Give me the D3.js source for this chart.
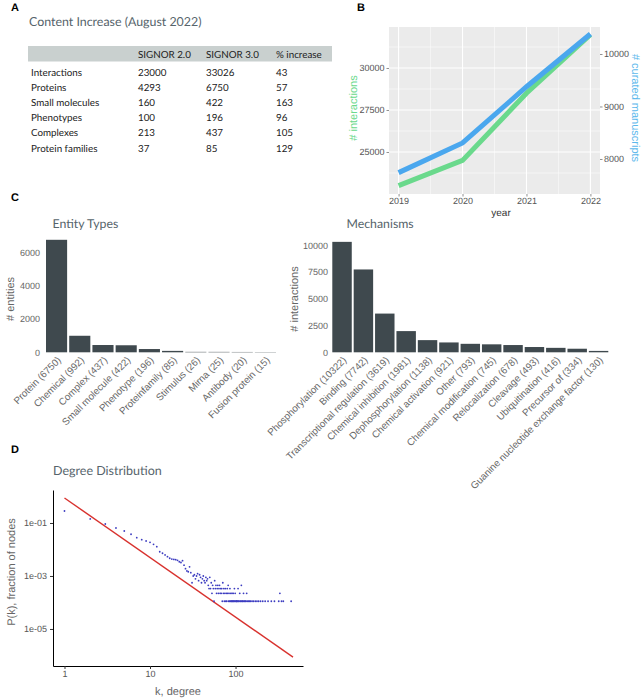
<!DOCTYPE html>
<html><head><meta charset="utf-8">
<script src="https://cdn.jsdelivr.net/npm/d3@7"></script>
<style>
body{margin:0;background:#fff;}
svg{display:block;}
text{text-rendering:geometricPrecision;}
</style></head><body>
<svg id="c" width="641" height="699"></svg>
<script>
// ---------- Panel A : table ----------
const tableHeader = ["SIGNOR 2.0", "SIGNOR 3.0", "% increase"];
const tableRows = ["Interactions","Proteins","Small molecules","Phenotypes","Complexes","Protein families"];
const signor2 = [23000,4293,160,100,213,37];
const signor3 = [33026,6750,422,196,437,85];
const pctIncrease = [43,57,163,96,105,129];

// ---------- Panel B : growth ----------
const years = [2019,2020,2021,2022];
const interactions = [23000,24500,28500,31990];
const manuscripts = [7740,8305,9376,10381];
const leftTicks = [25000,27500,30000];
const rightTicks = [8000,9000,10000];

// ---------- Panel C : bar charts ----------
const entityTypes = ["Protein","Chemical","Complex","Small molecule","Phenotype","Proteinfamily","Stimulus","Mirna","Antibody","Fusion protein"];
const entityCounts = [6750,992,437,422,196,85,26,25,20,15];
const entityTicks = [0,2000,4000,6000];
const mechanisms = ["Phosphorylation","Binding","Transcriptional regulation","Chemical inhibition","Dephosphorylation","Chemical activation","Other","Chemical modification","Relocalization","Cleavage","Ubiquitination","Precursor of","Guanine nucleotide exchange factor"];
const mechanismCounts = [10322,7742,3619,1981,1138,921,793,745,678,493,416,334,130];
const mechanismTicks = [0,2500,5000,7500,10000];

// ---------- Panel D : degree distribution ----------
const degreeK = [1,2,3,4,5,6,7,8,9,10,11,12,13,14,15,16,17,18,19,20,21,22,23,24,25,26,27,28,29,30,31,32,33,34,35,36,37,38,39,40,41,42,43,44,45,46,47,48,49,50,51,52,53,54,55,56,57,58,59,60,61,62,63,64,65,66,67,68,69,70,71,72,73,74,75,76,77,78,79,80,81,82,83,84,85,86,87,88,89,90,91,92,93,94,95,96,97,98,99,100,102,103,104,106,107,108,110,112,113,115,117,118,120,122,124,125,128,130,133,135,138,142,146,150,156,162,170,178,186,196,208,222,240,262,285,320,330,345,362,447];
const degreeNodes = [2556,1278,825,582,449,338,251,211,188,168,141,115,74,65,56,48,42,39,38,37,35,31,29,34,23,17,14,13,20,12,5,9,10,7,9,11,6,10,8,5,7,9,6,5,8,6,7,4,3,8,3,5,2,4,3,1,6,3,4,2,3,4,2,3,4,2,3,2,3,1,5,2,3,1,2,3,1,2,1,3,2,4,1,2,1,3,1,2,1,1,2,1,1,2,1,1,3,1,2,1,1,1,1,1,3,1,1,2,1,1,4,1,1,1,2,1,1,1,1,2,1,1,1,1,1,1,1,1,1,1,1,1,1,1,1,1,2,1,1,1];
const totalNodes = 9000;
const fitLine = [[1,0.88],[470,8.7e-7]];
const degreeXTicks = [1,10,100];
const degreeYTicks = [1e-1,1e-3,1e-5];

// ---------- styling ----------
const svg = d3.select("#c");
const HUM = "Lato, 'Open Sans', sans-serif";
const GG = "'Liberation Sans', Arial, sans-serif";
const titleCol = "#56646b";
const green = "#6ad98c", blue = "#4aa7ee";
const fmt = d3.format("d");

function panelLetter(t,x,y){
  svg.append("text").attr("x",x).attr("y",y).text(t)
    .attr("font-family",GG).attr("font-weight","bold").attr("font-size",11).attr("fill","#000");
}
panelLetter("A",11,11); panelLetter("B",357,11); panelLetter("C",11,201); panelLetter("D",11,453);

// ===== Panel A =====
svg.append("text").attr("x",29).attr("y",26).text("Content Increase (August 2022)")
  .attr("font-family",HUM).attr("font-size",12.4).attr("fill",titleCol);
svg.append("rect").attr("x",28).attr("y",46).attr("width",304).attr("height",15.5).attr("fill","#c9d0cf");
const colX = [138,206,276];
const gA = svg.append("g").attr("font-family",HUM).attr("font-size",9.8).attr("fill","#222");
tableHeader.forEach((h,i)=>gA.append("text").attr("x",colX[i]).attr("y",57.5).text(h));
const rowY = d3.scaleLinear().domain([0,5]).range([76,151.5]);
tableRows.forEach((r,i)=>{
  gA.append("text").attr("x",31).attr("y",rowY(i)).text(r);
  gA.append("text").attr("x",colX[0]).attr("y",rowY(i)).text(signor2[i]);
  gA.append("text").attr("x",colX[1]).attr("y",rowY(i)).text(signor3[i]);
  gA.append("text").attr("x",colX[2]).attr("y",rowY(i)).text(pctIncrease[i]);
});

// ===== Panel B =====
const bx = d3.scaleLinear().domain([2018.85,2022.15]).range([389,600]);
const byL = d3.scaleLinear().domain([22500,32440]).range([194,27]);
const byR = d3.scaleLinear().domain([7333,10514]).range([194,27]);
const gB = svg.append("g");
gB.append("rect").attr("x",389).attr("y",27).attr("width",211).attr("height",167).attr("fill","#ebebeb");
const minorX = years.slice(0,-1).map(y=>y+0.5);
const minorY = leftTicks.map(t=>t-1250).concat([leftTicks[leftTicks.length-1]+1250]);
gB.selectAll(".mx").data(minorX).join("line").attr("x1",d=>bx(d)).attr("x2",d=>bx(d)).attr("y1",27).attr("y2",194).attr("stroke","#fff").attr("stroke-width",0.5);
gB.selectAll(".my").data(minorY).join("line").attr("y1",d=>byL(d)).attr("y2",d=>byL(d)).attr("x1",389).attr("x2",600).attr("stroke","#fff").attr("stroke-width",0.5);
gB.selectAll(".Mx").data(years).join("line").attr("x1",d=>bx(d)).attr("x2",d=>bx(d)).attr("y1",27).attr("y2",194).attr("stroke","#fff").attr("stroke-width",1.1);
gB.selectAll(".My").data(leftTicks).join("line").attr("y1",d=>byL(d)).attr("y2",d=>byL(d)).attr("x1",389).attr("x2",600).attr("stroke","#fff").attr("stroke-width",1.1);
gB.append("path").datum(years.map((y,i)=>[y,interactions[i]]))
  .attr("d",d3.line().x(d=>bx(d[0])).y(d=>byL(d[1]))).attr("fill","none").attr("stroke",green).attr("stroke-width",5);
gB.append("path").datum(years.map((y,i)=>[y,manuscripts[i]]))
  .attr("d",d3.line().x(d=>bx(d[0])).y(d=>byR(d[1]))).attr("fill","none").attr("stroke",blue).attr("stroke-width",5);
function styleAxis(g,size){
  g.select(".domain").remove();
  g.selectAll(".tick line").attr("stroke","#444").attr("stroke-width",0.6);
  g.selectAll(".tick text").attr("fill","#555").attr("font-family",GG).attr("font-size",size);
}
gB.append("g").attr("transform","translate(389,0)")
  .call(d3.axisLeft(byL).tickValues(leftTicks).tickFormat(fmt).tickSize(2.5).tickPadding(2)).call(g=>styleAxis(g,9));
gB.append("g").attr("transform","translate(600,0)")
  .call(d3.axisRight(byR).tickValues(rightTicks).tickFormat(fmt).tickSize(2.5).tickPadding(1.5)).call(g=>styleAxis(g,9));
gB.append("g").attr("transform","translate(0,194)")
  .call(d3.axisBottom(bx).tickValues(years).tickFormat(fmt).tickSize(2.5).tickPadding(1.5)).call(g=>styleAxis(g,9));
gB.append("text").attr("x",501).attr("y",215.5).attr("text-anchor","middle").text("year")
  .attr("font-family",GG).attr("font-size",10).attr("fill","#333");
gB.append("text").attr("transform","translate(357,108) rotate(-90)").attr("text-anchor","middle").text("# interactions")
  .attr("font-family",GG).attr("font-size",11).attr("fill",green);
gB.append("text").attr("transform","translate(631.5,108) rotate(90)").attr("text-anchor","middle").text("# curated manuscripts")
  .attr("font-family",GG).attr("font-size",11).attr("fill","#5cb8ec");

// ===== Panel C =====
const barCol = "#3f494e";
function barPanel(cats, vals, ticks, xr, yr, ydom, title, titleX, ylabel, ylabX, tickRight){
  const g = svg.append("g");
  const x = d3.scaleBand().domain(cats).range(xr).paddingInner(0.09).paddingOuter(0);
  const y = d3.scaleLinear().domain(ydom).range(yr);
  g.selectAll("rect").data(cats).join("rect")
    .attr("x",d=>x(d)).attr("width",x.bandwidth())
    .attr("y",(d,i)=>y(vals[i])).attr("height",(d,i)=>y(0)-y(vals[i])).attr("fill",barCol);
  g.append("g").attr("transform",`translate(${tickRight},0)`)
    .call(d3.axisLeft(y).tickValues(ticks).tickFormat(fmt).tickSize(0).tickPadding(0))
    .call(a=>{a.select(".domain").remove();a.selectAll(".tick text").attr("fill","#666").attr("font-family",GG).attr("font-size",9);});
  g.append("g").style("opacity",0.99).selectAll("text").data(cats).join("text")
    .attr("transform",d=>`translate(${x(d)+x.bandwidth()/2+5},${y(0)+8.5}) rotate(-45)`)
    .attr("text-anchor","end").text((d,i)=>`${d} (${vals[i]})`)
    .attr("font-family",GG).attr("font-size",9.8).attr("fill","#666");
  g.append("text").attr("x",titleX).attr("y",227.5).text(title)
    .attr("font-family",HUM).attr("font-size",12.3).attr("fill",titleCol);
  g.append("text").attr("transform",`translate(${ylabX},299) rotate(-90)`).attr("text-anchor","middle").text(ylabel)
    .attr("font-family",GG).attr("font-size",11).attr("fill","#666");
}
barPanel(entityTypes, entityCounts, entityTicks, [46,276], [352.3,252.3], [0,6000], "Entity Types", 52.5, "# entities", 13.5, 40);
barPanel(mechanisms, mechanismCounts, mechanismTicks, [332.3,608.3], [352.3,245.3], [0,10000], "Mechanisms", 346.5, "# interactions", 298, 328);

// ===== Panel D =====
const dx = d3.scaleLog().domain([0.734,615]).range([53,303]);
const dy = d3.scaleLog().domain([4e-7,1.76]).range([666,490]);
const gD = svg.append("g");
gD.append("text").attr("x",53).attr("y",474.5).text("Degree Distribution")
  .attr("font-family",HUM).attr("font-size",12.5).attr("fill",titleCol);
gD.append("path").datum(fitLine).attr("d",d3.line().x(d=>dx(d[0])).y(d=>dy(d[1])))
  .attr("stroke","#d8322e").attr("stroke-width",1.4).attr("fill","none");
gD.selectAll("circle").data(degreeK).join("circle")
  .attr("cx",d=>dx(d)).attr("cy",(d,i)=>dy(degreeNodes[i]/totalNodes)).attr("r",0.9).attr("fill","#3c3cc0");
gD.append("g").attr("transform","translate(53,0)")
  .call(d3.axisLeft(dy).tickValues(degreeYTicks).tickFormat(d=>"1e-0"+Math.round(-Math.log10(d))).tickSizeInner(3).tickSizeOuter(0).tickPadding(3))
  .call(a=>{a.select(".domain").attr("stroke","#000").attr("stroke-width",1);a.selectAll(".tick line").attr("stroke","#333");a.selectAll(".tick text").attr("fill","#555").attr("font-family",GG).attr("font-size",9);});
gD.append("g").attr("transform","translate(0,666)")
  .call(d3.axisBottom(dx).tickValues(degreeXTicks).tickFormat(fmt).tickSizeInner(3).tickSizeOuter(0).tickPadding(2))
  .call(a=>{a.select(".domain").attr("stroke","#000").attr("stroke-width",1);a.selectAll(".tick line").attr("stroke","#333");a.selectAll(".tick text").attr("fill","#555").attr("font-family",GG).attr("font-size",9);});
gD.append("text").attr("x",178).attr("y",695).attr("text-anchor","middle").text("k, degree")
  .attr("font-family",GG).attr("font-size",11).attr("fill","#666");
gD.append("text").attr("transform","translate(14.5,572) rotate(-90)").attr("text-anchor","middle").text("P(k), fraction of nodes")
  .attr("font-family",GG).attr("font-size",11).attr("fill","#666");
</script>
</body></html>
